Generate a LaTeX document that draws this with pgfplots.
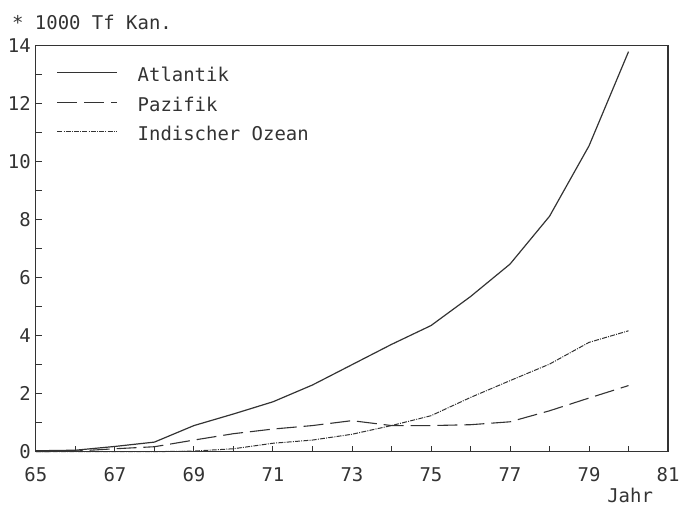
\documentclass[border=0pt]{standalone}
\usepackage{pgfplots}
\pgfplotsset{compat=1.18}
\usepackage{fontspec}
\setmainfont{DejaVu Sans Mono}
\definecolor{ink}{HTML}{333333}
\begin{document}
\begin{tikzpicture}
\path[use as bounding box] (-36pt,-57pt) rectangle (645pt,453pt);
\begin{axis}[
  at={(0pt,0pt)}, anchor=south west,
  scale only axis, width=634pt, height=407pt,
  clip=false,
  xmin=65, xmax=81, ymin=0, ymax=14,
  xtick={65,67,...,81}, minor xtick={66,68,...,80},
  ytick={0,2,...,14}, minor ytick={1,3,...,13},
  xtick pos=bottom, ytick pos=left,
  tick align=inside,
  major tick length=6pt, minor tick length=6pt,
  every tick/.style={ink, line width=0.9pt},
  axis line style={ink, line width=1.1pt},
  /pgf/number format/assume math mode=true,
  tick label style={font=\fontsize{19}{22}\selectfont, text=ink},
  xticklabel style={anchor=base, inner sep=0pt, yshift=-30pt},
  yticklabel style={anchor=east, inner sep=0pt, xshift=-5pt},
  legend style={at={(rel axis cs:0,1)}, anchor=north west, xshift=20.7pt, yshift=-21.7pt,
    draw=none, fill=none, inner sep=0pt, row sep=11.5pt, column sep=20pt,
    font=\fontsize{19}{22}\selectfont, text=ink,
    nodes={inner sep=0pt, text height=14pt, text depth=4pt, anchor=base west}},
  legend cell align=left,
  legend image code/.code={\draw[#1] (0pt,9pt) -- (60pt,9pt);},
]
\addplot[ink, line width=1.2pt] coordinates {
(65,0.03) (66,0.05) (67,0.18) (68,0.33) (69,0.9) (70,1.3) (71,1.72) (72,2.3) (73,3.0) (74,3.7) (75,4.35) (76,5.35) (77,6.47) (78,8.12) (79,10.55) (80,13.8)};
\addlegendentry{Atlantik}
\addplot[ink, line width=1.1pt, dash pattern=on 20pt off 7pt] coordinates {
(65,0.0) (66,0.02) (67,0.1) (68,0.17) (69,0.4) (70,0.62) (71,0.78) (72,0.9) (73,1.07) (74,0.9) (75,0.9) (76,0.93) (77,1.03) (78,1.41) (79,1.85) (80,2.28)};
\addlegendentry{Pazifik}
\addplot[ink, line width=1.0pt, dash pattern=on 5pt off 1.2pt on 1pt off 1.2pt] coordinates {
(65,0) (66,0) (67,0) (68,0) (69,0.02) (70,0.1) (71,0.29) (72,0.4) (73,0.6) (74,0.9) (75,1.24) (76,1.87) (77,2.45) (78,3.02) (79,3.77) (80,4.17)};
\addlegendentry{Indischer Ozean}
\node[anchor=base west, inner sep=0pt, text=ink, font=\fontsize{19}{22}\selectfont] at ([xshift=-24pt, yshift=16pt]rel axis cs:0,1) {* 1000 Tf Kan.};
\node[anchor=base, inner sep=0pt, text=ink, font=\fontsize{19}{22}\selectfont] at ([yshift=-51pt]rel axis cs:0.94,0) {Jahr};
\end{axis}
\end{tikzpicture}
\end{document}
